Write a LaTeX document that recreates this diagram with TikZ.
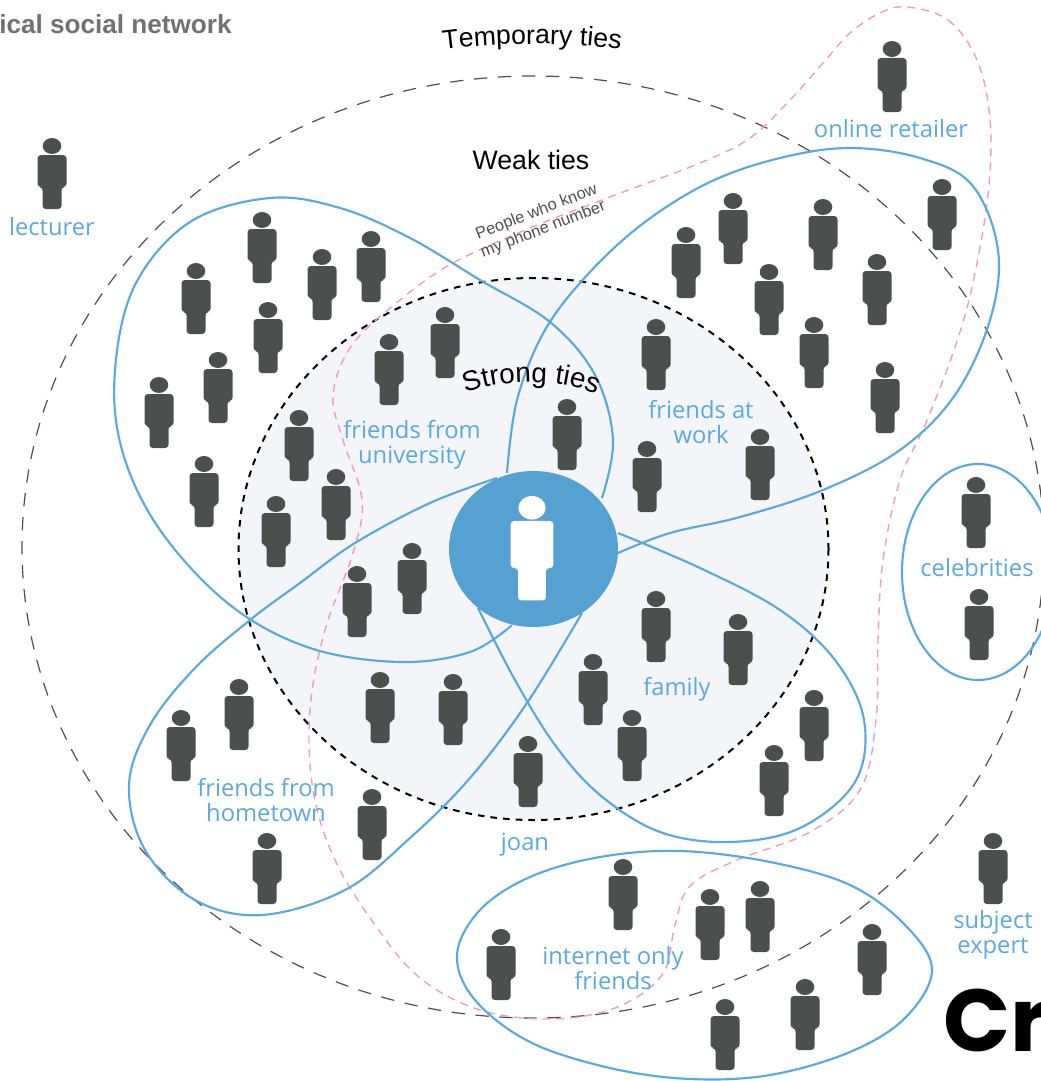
\documentclass[tikz,border=0pt]{standalone}
\usepackage{fontspec}
\usepackage{xcolor}
\usepackage{tikz}
\usetikzlibrary{decorations.text}
\setmainfont{Liberation Sans}
\newfontfamily\handfont{Open Sans}
\newfontfamily\brandfont{Poppins}
\definecolor{manDark}{HTML}{4D4E4E}
\definecolor{tieBlue}{HTML}{5AA9DD}
\definecolor{tiePink}{HTML}{F49AC1}
\definecolor{coreFill}{HTML}{F3F5F8}
\tikzset{
  person/.pic={
    \fill[pic actions] (0,-8) ellipse (9.3 and 8);
    \fill[pic actions,rounded corners=2.5pt] (-14.5,-17) -- (14.5,-17) -- (14.5,-49) -- (9.5,-49) -- (9.5,-71)
      -- (-9.5,-71) -- (-9.5,-49) -- (-14.5,-49) -- cycle;
  },
  petal/.style={draw=tieBlue,line width=1.6pt},
  handlabel/.style={inner sep=0pt,align=center,text=tieBlue,font=\handfont\fontsize{17.8}{19}\selectfont},
  blacklabel/.style={inner sep=0pt,font=\fontsize{20}{24}\selectfont}
}

\begin{document}
\begin{tikzpicture}[x=0.75pt,y=0.75pt,yscale=-1,xscale=1]
\useasboundingbox (0,0) rectangle (1041,1081);
\clip (0,0) rectangle (1041,1081);

%Shape: Strong ties
\draw [fill=coreFill,draw=black,line width=1.5pt,dash pattern=on 5pt off 4.5pt] (533.5,549) ellipse (295 and 271);
%Shape: Temporary ties
\draw [draw=manDark,line width=0.9pt,dash pattern=on 10pt off 8pt] (533,547) ellipse (511 and 471);

%Curve: phone number
\draw [tiePink,line width=1.05pt,dash pattern=on 6pt off 4.5pt] plot [smooth cycle,tension=0.6] coordinates {
  (907,7) (948,20) (977,60) (990,120) (988,195) (972,287) (953,353) (925,425) (900,480)
  (883,560) (878,640) (876,720) (860,790) (810,832) (737,860) (690,886) (675,925) (662,975)
  (615,1008) (550,1019) (480,1010) (420,978) (375,925) (335,860) (313,790) (310,710) (325,630)
  (353,553) (362,500) (343,440) (333,395) (352,345) (400,300) (453,263) (530,228) (610,197)
  (700,163) (750,138) (790,100) (823,63) (850,33) (880,13)};

%Curve: university
\draw [petal] plot [smooth,tension=0.6] coordinates {
  (512,625) (470,652) (400,662) (310,648) (230,605) (160,530) (122,450) (115,370) (135,285)
  (190,222) (270,198) (340,208) (410,238) (480,280) (550,322) (595,375) (613,440) (602,498)};
%Curve: work
\draw [petal] plot [smooth,tension=0.6] coordinates {
  (507,473) (517,400) (545,330) (590,272) (645,222) (710,182) (780,158) (850,148) (920,158)
  (972,185) (998,250) (990,320) (955,395) (900,450) (823,490) (740,517) (670,533) (618,553)};
%Curve: family
\draw [petal] plot [smooth,tension=0.6] coordinates {
  (618,533) (700,568) (780,610) (835,660) (864,720) (855,782) (800,828) (730,842) (660,832)
  (600,795) (555,745) (515,680) (478,608)};
%Curve: hometown
\draw [petal] plot [smooth,tension=0.6] coordinates {
  (497,478) (430,503) (355,543) (300,583) (250,620) (195,668) (150,725) (129,785) (145,850)
  (195,900) (262,915) (345,890) (410,838) (470,778) (527,703) (582,613)};
%Curve: internet only
\draw [petal] plot [smooth cycle,tension=0.6] coordinates {
  (680,851) (600,857) (530,877) (480,910) (457,955) (475,1000) (530,1042) (610,1068)
  (690,1079) (770,1075) (850,1052) (905,1018) (932,970) (905,925) (850,885) (770,862)};
%Shape: celebrities
\draw [petal] (978,572) ellipse (76 and 108);

%Shape: centre
\fill [tieBlue!95!black] (533.5,549) ellipse (84.5 and 78);
\pic [fill=white,scale=1.47] at (532,496) {person};

% People
\foreach \x/\y in {52/138,892/41,942/179,686/227,733/193,769/264,823/199,877/254,814/317,885/362,
  656/319,647/441,760/429,567/399,262/212,196/263,322/249,371/231,268/302,218/352,159/377,204/456,
  299/410,276/496,336/469,389/334,445/307,357/566,412/543,380/672,453/674,181/710,239/679,372/789,
  267/833,656/591,738/614,593/654,632/710,814/690,774/745,528/736,623/859,710/889,760/881,501/929,
  872/924,725/999,805/979,976/477,979/589,993/833}
  \pic [fill=manDark] at (\x,\y) {person};

% Text Node
\node (title) [anchor=west,inner sep=0pt,text=manDark!80,font=\bfseries\fontsize{19.6}{22}\selectfont] at (-1,24) {ical social network};
\node (weak) [blacklabel] at (531,160) {Weak ties};
\node (phone) [inner sep=0pt,align=center,rotate=21,text=manDark,font=\fontsize{12.3}{14}\selectfont] at (540,221) {People who know\\my phone number};
\node (brand) [anchor=west,inner sep=0pt,font=\brandfont\bfseries\fontsize{66}{70}\selectfont] at (943,1020) {Cr};
% Text Node
\path [decorate,decoration={text along path,text align=center,text={|\fontsize{20}{24}\selectfont|Temporary ties}}]
  (442,50) .. controls (500,42) and (570,42) .. (622,50);
\path [decorate,decoration={text along path,text align=center,text={|\fontsize{21}{24}\selectfont|Strong ties}}]
  (462,394) .. controls (505,378) and (560,378) .. (600,396);
% Text Node
\node (lecturer) [handlabel] at (52,227) {lecturer};
\node (retailer) [handlabel] at (891,129) {online retailer};
\node (university) [handlabel] at (412,445) {friends from\\university};
\node (work) [handlabel] at (701,422) {friends at\\work};
\node (family) [handlabel] at (677,689) {family};
\node (hometown) [handlabel] at (266,800) {friends from\\hometown};
\node (celebrities) [handlabel] at (977,568) {celebrities};
\node (joan) [handlabel] at (525,845) {joan};
\node (internet) [handlabel] at (613,968) {internet only\\friends};
\node (expert) [handlabel] at (993,935) {subject\\expert};

\end{tikzpicture}
\end{document}
